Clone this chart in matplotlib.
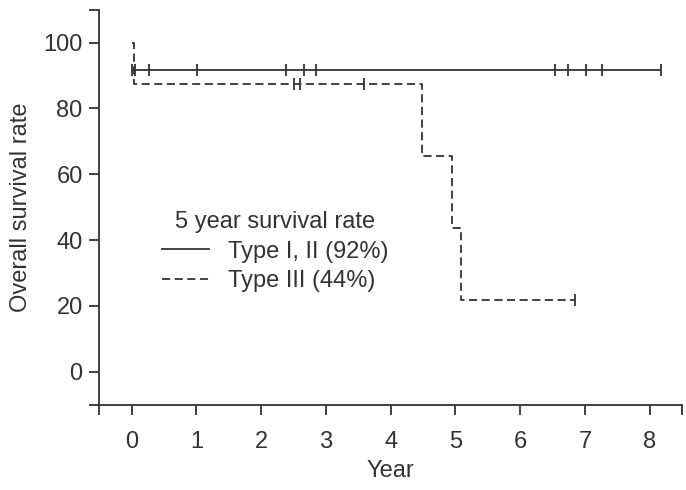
import matplotlib
matplotlib.use("Agg")
import matplotlib.pyplot as plt
from matplotlib.lines import Line2D

plt.rcParams['font.family'] = ['Liberation Sans', 'DejaVu Sans']

# Data
type12_time = [0.0, 8.18]
type12_surv = [91.7, 91.7]
type12_censor_time = [0.0, 0.05, 0.27, 1.01, 2.39, 2.66, 2.84, 6.54, 6.74, 7.02, 7.27, 8.18]

type3_time = [0.0, 0.03, 4.49, 4.94, 5.08, 6.85]
type3_surv = [100.0, 87.5, 65.6, 43.8, 21.9, 21.9]
type3_censor_time = [2.50, 2.60, 3.59, 6.85]
type3_censor_surv = [87.5, 87.5, 87.5, 21.9]

x_ticks = [0, 1, 2, 3, 4, 5, 6, 7, 8]
y_ticks = [0, 20, 40, 60, 80, 100]

legend_title = "5 year survival rate"
label12 = "Type I, II (92%)"
label3 = "Type III (44%)"

col = '#333333'
fs = 17

fig = plt.figure(figsize=(6.86, 4.90), dpi=100)
ax = fig.add_axes([0.1448, 0.1743, 0.8494, 0.8057])

ax.plot(type12_time, type12_surv, drawstyle='steps-post', color=col, lw=1.3, solid_capstyle='butt')
ax.plot(type12_censor_time, [type12_surv[0]] * len(type12_censor_time), linestyle='none',
        marker='|', markersize=8, markeredgewidth=1.3, color=col)

ax.plot(type3_time, type3_surv, drawstyle='steps-post', color=col, lw=1.3,
        linestyle=(0, (4.5, 2.5)))
ax.plot(type3_censor_time, type3_censor_surv, linestyle='none',
        marker='|', markersize=8, markeredgewidth=1.3, color=col)

ax.set_xlim(-0.5, 8.5)
ax.set_ylim(-10, 110)
ax.spines['top'].set_visible(False)
ax.spines['right'].set_visible(False)
for s in ('left', 'bottom'):
    ax.spines[s].set_linewidth(1.3)
    ax.spines[s].set_color(col)

ax.set_xticks([-0.5] + x_ticks + [8.5])
ax.set_xticklabels([''] + [str(v) for v in x_ticks] + [''])
ax.set_yticks([-10] + y_ticks + [110])
ax.set_yticklabels([''] + [str(v) for v in y_ticks] + [''])
ax.tick_params(axis='both', direction='out', length=7, width=1.3, color=col,
               labelsize=fs, labelcolor=col)
ax.tick_params(axis='x', pad=12)
ax.tick_params(axis='y', pad=5)

ax.set_xlabel("Year", fontsize=fs, color=col, labelpad=5)
ax.set_ylabel("Overall survival rate", fontsize=fs, color=col, labelpad=8)

handles = [Line2D([], [], color=col, lw=1.3),
           Line2D([], [], color=col, lw=1.3, linestyle=(0, (4.5, 2.5)))]
leg = ax.legend(handles, [label12, label3], title=legend_title, frameon=False,
                loc='upper left', bbox_to_anchor=(162 / 686, 1 - 211 / 490),
                bbox_transform=fig.transFigure, borderpad=0, borderaxespad=0,
                fontsize=fs, title_fontsize=fs, handlelength=2.0, handletextpad=0.8,
                labelspacing=0.32)
for t in leg.get_texts():
    t.set_color(col)
leg.get_title().set_color(col)

fig.savefig("out.png", dpi=100)
